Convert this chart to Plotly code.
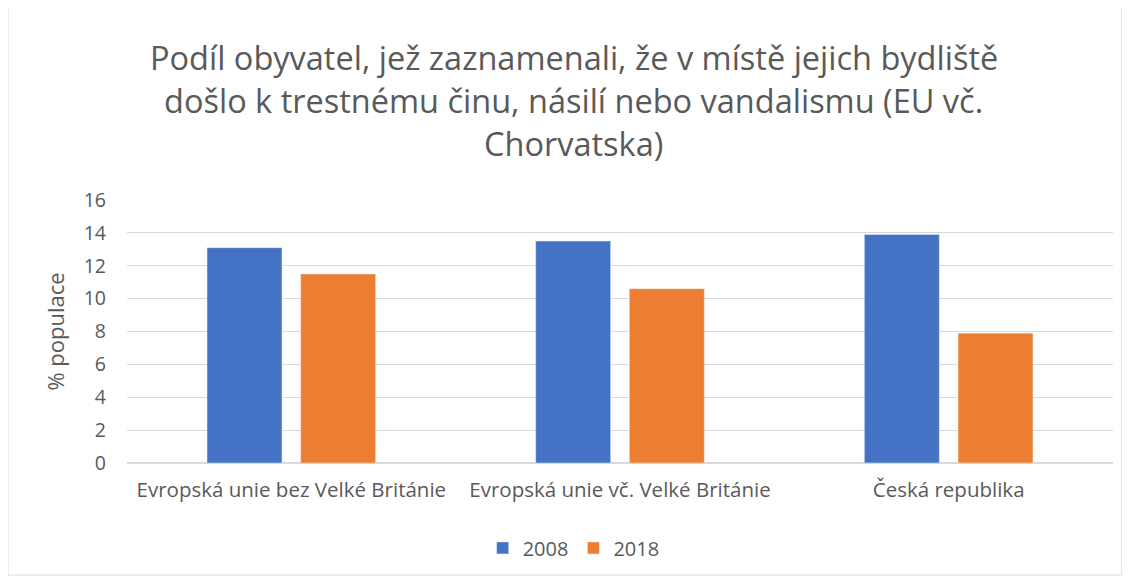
import plotly.graph_objects as go

categories = ["Evropská unie bez Velké Británie", "Evropská unie vč. Velké Británie", "Česká republika"]
values_2008 = [13.1, 13.5, 13.9]
values_2018 = [11.5, 10.6, 7.9]
title_lines = [
    "Podíl obyvatel, jež zaznamenali, že v místě jejich bydliště",
    "došlo k trestnému činu, násilí nebo vandalismu (EU vč.",
    "Chorvatska)",
]
y_ticks = [0, 2, 4, 6, 8, 10, 12, 14, 16]

FONT = "Open Sans"
GREY = "#595959"

fig = go.Figure()
fig.add_trace(go.Bar(x=categories, y=values_2008, name="2008", marker_color="#4472C4"))
fig.add_trace(go.Bar(x=categories, y=values_2018, name="2018", marker_color="#ED7D31"))

# title drawn as separate lines to control the line spacing
for i, line in enumerate(title_lines):
    fig.add_annotation(
        text=line, xref="paper", yref="paper", x=0.453, y=1.54 - i * 0.1635,
        showarrow=False, xanchor="center", yanchor="middle",
        font=dict(family=FONT, size=32.5, color=GREY),
    )

# chart border
fig.add_shape(type="rect", xref="paper", yref="paper",
              x0=-0.1207, x1=1.009, y0=-0.426, y1=1.76,
              line=dict(color="#d9d9d9", width=1))

# page body has an 8px margin, so the figure is 8px smaller each way
fig.update_layout(
    width=1122, height=571,
    margin=dict(l=119, r=17, t=192, b=116),
    paper_bgcolor="white", plot_bgcolor="white",
    font=dict(family=FONT, size=20, color=GREY),
    barmode="group", bargap=0.43, bargroupgap=0.2,
    showlegend=True,
    legend=dict(orientation="h", x=0.453, xanchor="center", y=-0.323, yanchor="middle",
                font=dict(size=20, color=GREY), itemwidth=30),
    xaxis=dict(showgrid=False, showline=False, ticks="", ticklabelstandoff=12,
               tickfont=dict(size=20.5, color=GREY)),
    yaxis=dict(range=[0, 16], tickvals=y_ticks, showgrid=True, gridcolor="#d9d9d9",
               zeroline=True, zerolinecolor="#d9d9d9", showline=False, ticks="",
               tickfont=dict(size=19.5, color=GREY), ticklabelstandoff=20,
               title=dict(text="% populace", font=dict(size=22, color=GREY), standoff=12)),
)

fig.write_html("out.html")
